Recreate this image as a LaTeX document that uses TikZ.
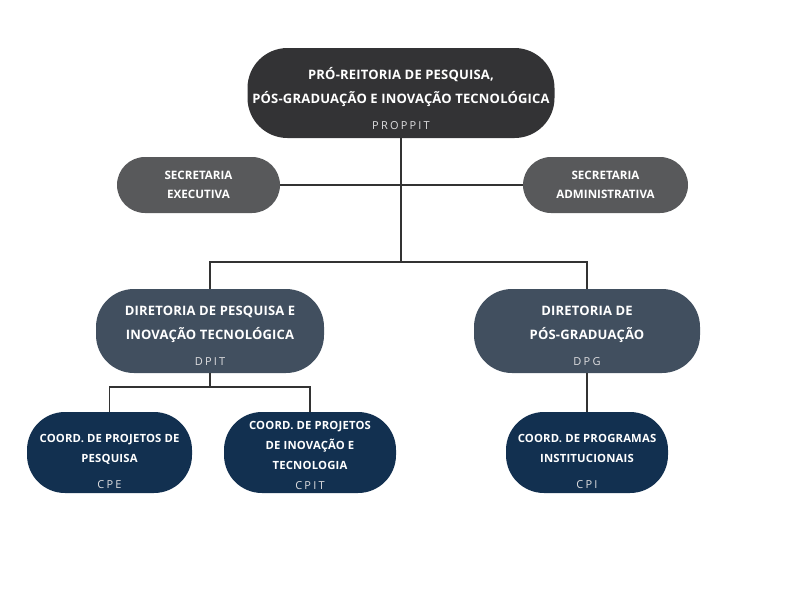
\documentclass[tikz,border=0pt]{standalone}
\usepackage{fontspec}
\setmainfont{Open Sans}
\newfontfamily\titlefont[LetterSpace=1.5]{Open Sans}
\newfontfamily\codefont[LetterSpace=20]{Open Sans}
\definecolor{reitoriaback}{RGB}{51,51,53}
\definecolor{secretariaback}{RGB}{88,89,91}
\definecolor{diretoriaback}{RGB}{65,79,95}
\definecolor{coordback}{RGB}{18,48,80}
\definecolor{codegray}{RGB}{222,222,224}
\definecolor{linkgray}{RGB}{51,51,51}

\begin{document}
\begin{tikzpicture}[x=1pt,y=-1pt,
  pill/.style={fill=#1,rounded corners=40pt,inner sep=0pt},
  bigtext/.style={text=white,align=center,font={\titlefont\bfseries\fontsize{13}{24}\selectfont}},
  smalltext/.style={text=white,align=center,font={\titlefont\bfseries\fontsize{11.3}{20}\selectfont}},
  link/.style={draw=linkgray,line width=1.5pt}]
\useasboundingbox (0,0) rectangle (800,600);

\node [pill=reitoriaback,minimum width=307pt,minimum height=90pt,
  label={[bigtext,yshift=-5pt]center:{PRÓ-REITORIA DE PESQUISA,\\PÓS-GRADUAÇÃO E INOVAÇÃO TECNOLÓGICA\\[2pt]{\color{codegray}\codefont\mdseries\fontsize{11}{12}\selectfont PROPPIT}}}]
  (proppit) at (401,93) {};

\node [pill=secretariaback,rounded corners=28pt,minimum width=163pt,minimum height=56pt,
  text=white,align=center,font={\bfseries\fontsize{11.6}{19}\selectfont}]
  (secexec) at (198.5,185) {SECRETARIA\\EXECUTIVA};
\node [pill=secretariaback,rounded corners=28pt,minimum width=165pt,minimum height=56pt,
  text=white,align=center,font={\bfseries\fontsize{11.6}{19}\selectfont}]
  (secadm) at (605.5,185) {SECRETARIA\\ADMINISTRATIVA};

\node [pill=diretoriaback,rounded corners=38pt,minimum width=228pt,minimum height=84pt,
  label={[bigtext,yshift=-5pt]center:{DIRETORIA DE PESQUISA E\\INOVAÇÃO TECNOLÓGICA\\[2pt]{\color{codegray}\codefont\mdseries\fontsize{11}{12}\selectfont DPIT}}}]
  (dpit) at (210,331) {};
\node [pill=diretoriaback,rounded corners=38pt,minimum width=226pt,minimum height=84pt,
  label={[bigtext,yshift=-5pt]center:{DIRETORIA DE\\PÓS-GRADUAÇÃO\\[2pt]{\color{codegray}\codefont\mdseries\fontsize{11}{12}\selectfont DPG}}}]
  (dpg) at (587,331) {};

\node [pill=coordback,rounded corners=38pt,minimum width=165pt,minimum height=81pt,
  label={[smalltext,yshift=-9pt]center:{COORD. DE PROJETOS DE\\PESQUISA\\[6pt]{\color{codegray}\codefont\mdseries\fontsize{11}{12}\selectfont CPE}}}]
  (cpe) at (109.5,452.5) {};
\node [pill=coordback,rounded corners=38pt,minimum width=172pt,minimum height=81pt,
  label={[smalltext,yshift=-3pt]center:{COORD. DE PROJETOS\\DE INOVAÇÃO E\\TECNOLOGIA\\[0pt]{\color{codegray}\codefont\mdseries\fontsize{11}{12}\selectfont CPIT}}}]
  (cpit) at (310,452.5) {};
\node [pill=coordback,rounded corners=38pt,minimum width=162pt,minimum height=81pt,
  label={[smalltext,yshift=-9pt]center:{COORD. DE PROGRAMAS\\INSTITUCIONAIS\\[6pt]{\color{codegray}\codefont\mdseries\fontsize{11}{12}\selectfont CPI}}}]
  (cpi) at (587,452.5) {};

\coordinate (hub) at (401,262);
\coordinate (dpitjoin) at (210,387);
\draw [link] (proppit.south) -- (hub);
\draw [link] (secexec) -- (secadm);
\draw [link] (dpit.north) |- (hub) -| (dpg.north);
\draw [link] (dpit.south) -- (dpitjoin);
\draw [link] (cpe.north) |- (dpitjoin) -| (cpit.north);
\draw [link] (dpg) -- (cpi);
\end{tikzpicture}
\end{document}
